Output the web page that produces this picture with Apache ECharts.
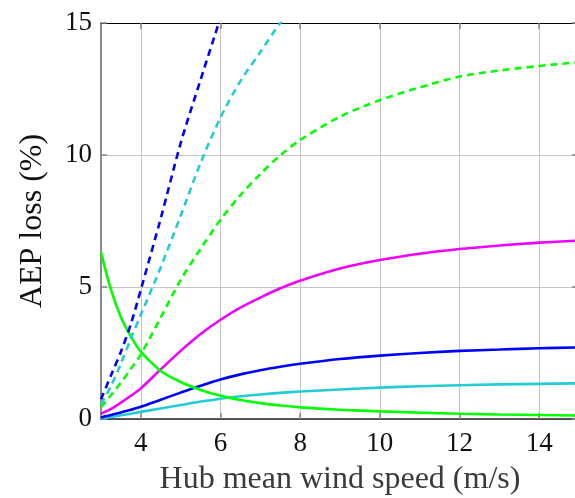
<!DOCTYPE html>
<html>
<head>
<meta charset="utf-8">
<script src="https://cdn.jsdelivr.net/npm/echarts@6/dist/echarts.min.js"></script>
<style>html,body{margin:0;padding:0;background:#fff;}#chart{width:575px;height:498px;}</style>
</head>
<body>
<div id="chart"></div>
<script>
// Hub mean wind speed (m/s)
const windSpeed = [3, 3.25, 3.5, 3.75, 4, 4.5, 5, 5.5, 6, 6.5, 7, 7.5, 8, 9, 10, 11, 12, 13, 14, 15];
const windSpeedBlueDashed = [3, 3.25, 3.5, 3.75, 4, 4.5, 5, 5.5, 6];
const windSpeedCyanDashed = [3, 3.25, 3.5, 3.75, 4, 4.5, 5, 5.5, 6, 6.5, 7, 7.5, 8];

// AEP loss (%)
const greenSolid   = [6.3, 4.9, 3.85, 3.12, 2.55, 1.82, 1.4, 1.1, 0.88, 0.72, 0.6, 0.51, 0.44, 0.35, 0.29, 0.24, 0.2, 0.17, 0.15, 0.13];
const magentaSolid = [0.2, 0.38, 0.62, 0.88, 1.16, 1.88, 2.58, 3.22, 3.76, 4.22, 4.6, 4.95, 5.24, 5.7, 6.02, 6.26, 6.44, 6.57, 6.68, 6.76];
const blueSolid    = [0.06, 0.15, 0.25, 0.35, 0.46, 0.73, 1.0, 1.26, 1.5, 1.69, 1.85, 1.98, 2.09, 2.27, 2.4, 2.5, 2.58, 2.63, 2.68, 2.71];
const cyanSolid    = [0.02, 0.08, 0.14, 0.2, 0.27, 0.4, 0.53, 0.66, 0.77, 0.86, 0.93, 0.99, 1.04, 1.12, 1.19, 1.24, 1.28, 1.31, 1.33, 1.35];
const blueDashed   = [0.75, 1.65, 2.55, 3.6, 4.9, 7.6, 10.45, 12.85, 15.2];
const cyanDashed   = [0.55, 1.25, 2.1, 3.05, 3.95, 5.75, 7.7, 9.7, 11.42, 12.8, 13.9, 15.0, 15.9];
const greenDashed  = [0.45, 0.9, 1.38, 1.9, 2.45, 3.85, 5.27, 6.45, 7.55, 8.48, 9.28, 9.99, 10.57, 11.45, 12.08, 12.56, 12.97, 13.2, 13.37, 13.52];

const xTicks = [4, 6, 8, 10, 12, 14];
const xLabel = 'Hub mean wind speed (m/s)';
const yLabel = 'AEP loss (%)';

const FONT = '"Liberation Serif", "Times New Roman", serif';

function pairs(xs, ys) { return xs.map((x, i) => [x, ys[i]]); }

function mk(name, xs, ys, color, dashed) {
  return {
    name: name, type: 'line', data: pairs(xs, ys),
    showSymbol: false, smooth: 0.3, clip: true,
    lineStyle: { color: color, width: 2.6, type: dashed ? [7, 5] : 'solid', cap: 'butt' },
    itemStyle: { color: color }, silent: true
  };
}

const chart = echarts.init(document.getElementById('chart'), null, { renderer: 'canvas' });
chart.setOption({
  animation: false,
  backgroundColor: '#ffffff',
  grid: { left: 101, top: 23, right: -4, bottom: 79, containLabel: false, outerBoundsMode: 'none' },
  xAxis: [{
    type: 'value', min: 3, max: 15, position: 'bottom',
    name: xLabel, nameLocation: 'middle', nameGap: 45,
    nameTextStyle: { fontFamily: FONT, fontSize: 32, color: '#3a3a3a' },
    axisLine: { show: true, onZero: false, lineStyle: { color: '#222', width: 1.5 } },
    axisTick: { show: true, inside: true, length: 6, customValues: xTicks, lineStyle: { color: '#888', width: 1.5 } },
    axisLabel: { customValues: xTicks, fontFamily: FONT, fontSize: 27, color: '#111', margin: 11 },
    splitLine: { show: true, lineStyle: { color: '#c4c4c4', width: 1 } }
  }, {
    type: 'value', min: 3, max: 15, position: 'top',
    axisLine: { show: true, onZero: false, lineStyle: { color: '#000', width: 1.2 } },
    axisTick: { show: true, inside: true, length: 6, customValues: xTicks, lineStyle: { color: '#888', width: 1.5 } },
    axisLabel: { show: false },
    splitLine: { show: false }
  }],
  yAxis: [{
    type: 'value', min: 0, max: 15, interval: 5, position: 'left',
    name: yLabel, nameLocation: 'middle', nameGap: 52,
    nameTextStyle: { fontFamily: FONT, fontSize: 32, color: '#111' },
    axisLine: { show: true, onZero: false, lineStyle: { color: '#666', width: 1.5 } },
    axisTick: { show: true, inside: true, length: 6, lineStyle: { color: '#888', width: 1.5 } },
    axisLabel: { fontFamily: FONT, fontSize: 27, color: '#111', margin: 9 },
    splitLine: { show: true, lineStyle: { color: '#c4c4c4', width: 1 } }
  }, {
    type: 'value', min: 0, max: 15, interval: 5, position: 'right',
    axisLine: { show: false },
    axisTick: { show: true, inside: true, length: 7, lineStyle: { color: '#888', width: 1.5 } },
    axisLabel: { show: false },
    splitLine: { show: false }
  }],
  series: [
    mk('cyan', windSpeed, cyanSolid, '#22ccd2', false),
    mk('blue', windSpeed, blueSolid, '#0000ff', false),
    mk('magenta', windSpeed, magentaSolid, '#ee00ff', false),
    mk('green', windSpeed, greenSolid, '#00ff00', false),
    mk('green dashed', windSpeed, greenDashed, '#00ff00', true),
    mk('cyan dashed', windSpeedCyanDashed, cyanDashed, '#22ccd2', true),
    mk('blue dashed', windSpeedBlueDashed, blueDashed, '#0000ff', true)
  ]
});
</script>
</body>
</html>
